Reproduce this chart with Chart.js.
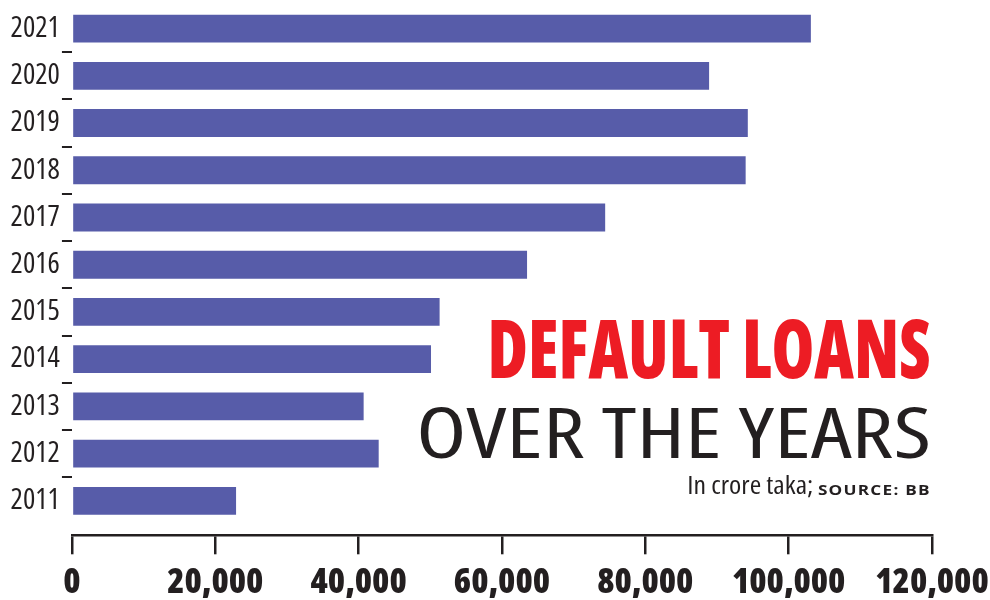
<!DOCTYPE html>
<html>
<head>
<meta charset="utf-8">
<script src="https://cdn.jsdelivr.net/npm/chart.js@4"></script>
<style>
  html, body { margin: 0; padding: 0; background: #ffffff; overflow: hidden; }
  #wrap { position: relative; width: 990px; height: 600px; overflow: hidden; }
  #c { position: absolute; left: 0; top: 0; }
  .t { position: absolute; white-space: nowrap; line-height: 1; font-family: 'Open Sans', sans-serif; }
</style>
</head>
<body>
<div id="wrap">
  <canvas id="c" width="990" height="612"></canvas>
  <div class="t" id="t1">DEFAULT LOANS</div>
  <div class="t" id="t2">OVER THE YEARS</div>
  <div class="t" id="t3a">In crore taka;</div>
  <div class="t" id="t3b">SOURCE: BB</div>
</div>
<script>
// ---- data ----
const categories = ['2021', '2020', '2019', '2018', '2017', '2016', '2015', '2014', '2013', '2012', '2011'];
const defaultLoans = [103100, 88900, 94300, 94000, 74400, 63500, 51300, 50100, 40700, 42800, 22900];
const xTickValues = [0, 20000, 40000, 60000, 80000, 100000, 120000];

const FAMILY = "'Open Sans', sans-serif";
const INK = '#231f20';
const BAR = '#575ca9';

const yearNums = categories.map(Number);
const topYear = Math.max(...yearNums);
// boundaries between neighbouring years, where the small tick marks sit
const boundaryTicks = yearNums.filter(y => y < topYear).map(y => y + 0.5);

const chart = new Chart(document.getElementById('c'), {
  type: 'bar',
  data: {
    datasets: [{
      data: categories.map((c, i) => ({ x: defaultLoans[i], y: Number(c) })),
      backgroundColor: BAR,
      borderWidth: 0,
      categoryPercentage: 1,
      barPercentage: 1.18
    }]
  },
  options: {
    indexAxis: 'y',
    responsive: false,
    animation: false,
    layout: { autoPadding: false, padding: { top: 5, left: 8.6, right: 58, bottom: 0 } },
    plugins: { legend: { display: false }, tooltip: { enabled: false }, title: { display: false } },
    scales: {
      x: {
        type: 'linear',
        min: 0,
        max: 120000,
        afterBuildTicks: (axis) => { axis.ticks = xTickValues.map(v => ({ value: v })); },
        afterFit: (scale) => { scale.paddingLeft = 0; scale.paddingRight = 0; },
        ticks: {
          autoSkip: false,
          maxRotation: 0,
          padding: 11.35,
          color: INK,
          font: { family: FAMILY, size: 35, weight: '800 condensed', lineHeight: 1 },
          callback: (v) => Number(v).toLocaleString('en-US')
        },
        grid: { drawOnChartArea: false, drawTicks: true, tickLength: 19, color: INK, lineWidth: 2.5 },
        border: { display: true, color: INK, width: 2.5 }
      },
      y: {
        type: 'linear',
        offset: false,
        min: 2010.27,
        max: topYear + 0.5,
        afterBuildTicks: (axis) => {
          axis.ticks = yearNums.concat(boundaryTicks).sort((a, b) => a - b).map(v => ({ value: v }));
        },
        afterFit: (scale) => { scale.paddingTop = 0; scale.paddingBottom = 0; },
        ticks: {
          autoSkip: false,
          padding: 2,
          color: INK,
          font: { family: FAMILY, size: 29, weight: 'condensed' },
          callback: (v) => Number.isInteger(v) ? String(v) : ''
        },
        grid: {
          offset: false,
          drawOnChartArea: false,
          drawTicks: true,
          tickLength: 10,
          lineWidth: 2,
          color: (ctx) => (ctx.tick && !Number.isInteger(ctx.tick.value)) ? INK : 'rgba(0,0,0,0)'
        },
        border: { display: false }
      }
    }
  }
});

// ---- headline text (real HTML text) ----
function place(el, o) {
  el.style.fontSize = o.size + 'px';
  el.style.fontWeight = o.weight || 400;
  el.style.fontStretch = o.stretch || '100%';
  if (o.spacing) el.style.letterSpacing = o.spacing + 'px';
  el.style.color = o.color;
  el.style.top = o.top + 'px';
  el.style.right = (990 - o.right) + 'px';
  const w = el.getBoundingClientRect().width;
  el.style.transformOrigin = 'right top';
  el.style.transform = 'scaleX(' + (o.width / w) + ')';
}
place(document.getElementById('t1'), { size: 81, weight: 800, stretch: '75%', color: '#ed1c24', top: 306, right: 930, width: 443 });
place(document.getElementById('t2'), { size: 69, weight: 400, stretch: '87.5%', color: INK, top: 397, right: 931, width: 515 });
place(document.getElementById('t3a'), { size: 25, weight: 400, stretch: '75%', color: INK, top: 472, right: 813, width: 126 });
place(document.getElementById('t3b'), { size: 14, weight: 700, stretch: '100%', spacing: 1, color: INK, top: 482.6, right: 931, width: 113 });
</script>
</body>
</html>
